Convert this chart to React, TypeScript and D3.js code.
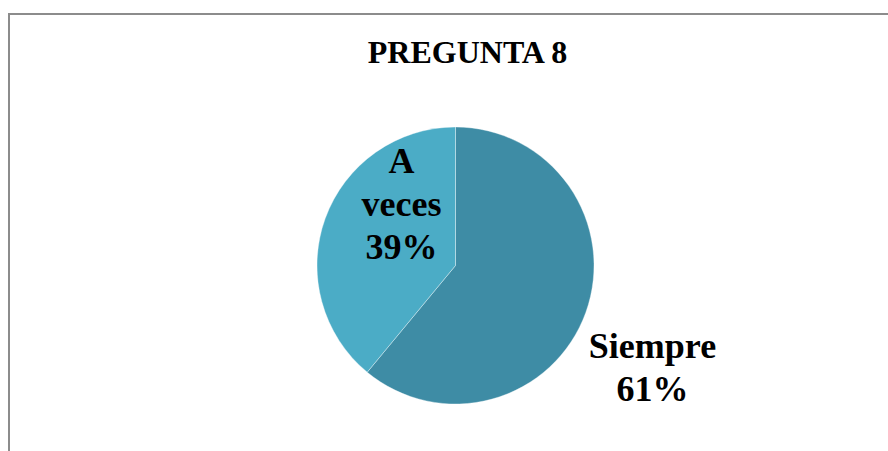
import React, { useRef, useEffect } from 'react';
import * as d3 from 'd3';

// chart data
const categories = ['Siempre', 'A veces'];
const values = [61, 39];
const colors = ['#3e8ca5', '#4bacc6'];
const title = 'PREGUNTA 8';

const W = 888;
const H = 451;

const App = () => {
    const chartRef = useRef<SVGSVGElement>(null);

    useEffect(() => {
        const svg = d3.select(chartRef.current);
        svg.selectAll('*').remove();

        const font = '"Liberation Serif", "Times New Roman", serif';

        // chart area frame (right and bottom edges fall outside the view)
        svg.append('rect')
            .attr('x', 9)
            .attr('y', 14)
            .attr('width', W + 20)
            .attr('height', H + 20)
            .attr('fill', '#fff')
            .attr('stroke', '#8c8c8c')
            .attr('stroke-width', 2);

        svg.append('text')
            .attr('x', 467.5)
            .attr('y', 63)
            .attr('text-anchor', 'middle')
            .style('font-family', font)
            .style('font-weight', 'bold')
            .style('font-size', '32px')
            .text(title);

        const cx = 455.5;
        const cy = 265.5;
        const radius = 138.5;

        const pie = d3.pie<number>().sort(null).value((d) => d);
        const arcs = pie(values);
        const arc = d3.arc<d3.PieArcDatum<number>>().innerRadius(0).outerRadius(radius);

        const g = svg.append('g').attr('transform', `translate(${cx},${cy})`);

        g.selectAll('path')
            .data(arcs)
            .enter()
            .append('path')
            .attr('d', arc)
            .attr('fill', (d, i) => colors[i])
            .attr('stroke', '#ffffff')
            .attr('stroke-opacity', 0.6)
            .attr('stroke-width', 0.6);

        // label placement relative to pie centre (best-fit like the original)
        const labelPos = [
            { x: 197, y: 92 },   // Siempre, outside right
            { x: -54, y: -93 },  // A veces, inside slice
        ];
        const lineH = 43;

        arcs.forEach((a, i) => {
            const pct = Math.round((a.value / d3.sum(values)) * 100) + '%';
            const words = categories[i] === 'A veces' ? ['A', 'veces', pct] : [categories[i], pct];
            const t = g.append('text')
                .attr('text-anchor', 'middle')
                .style('font-family', font)
                .style('font-weight', 'bold')
                .style('font-size', '36px')
                .attr('fill', '#000');
            words.forEach((w, j) => {
                t.append('tspan')
                    .attr('x', labelPos[i].x)
                    .attr('y', labelPos[i].y + j * lineH)
                    .text(w);
            });
        });
    }, []);

    return (
        <svg
            ref={chartRef}
            width={W}
            height={H}
            style={{ position: 'absolute', left: 0, top: 0, background: '#fff' }}
        ></svg>
    );
};

export default App;
